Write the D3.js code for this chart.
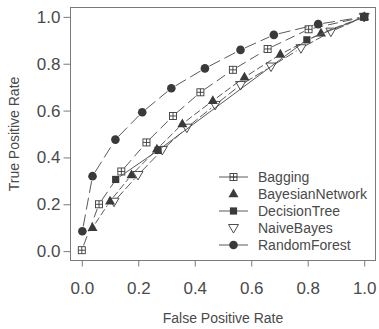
<!DOCTYPE html>
<html>
<head>
<meta charset="utf-8">
<script src="https://cdn.jsdelivr.net/npm/d3@7"></script>
<style>
  body { margin: 0; background: #fff; }
  svg { display: block; font-family: "Liberation Sans", Arial, sans-serif; }
</style>
</head>
<body>
<svg id="chart" width="379" height="329"></svg>
<script>
// ROC points
const seriesNames = ["Bagging", "BayesianNetwork", "DecisionTree", "NaiveBayes", "RandomForest"];

const baggingFpr = [0, 0.061, 0.14, 0.229, 0.323, 0.42, 0.535, 0.658, 0.803, 1];
const baggingTpr = [0.004, 0.2, 0.34, 0.464, 0.577, 0.678, 0.774, 0.863, 0.947, 1];

const bayesNetFpr = [0.038, 0.1, 0.176, 0.266, 0.356, 0.464, 0.576, 0.703, 0.847, 1];
const bayesNetTpr = [0.1, 0.213, 0.325, 0.435, 0.543, 0.642, 0.742, 0.84, 0.93, 1];

const treeFpr = [0.12, 0.27, 0.797, 1];
const treeTpr = [0.306, 0.43, 0.902, 1];

const naiveFpr = [0.114, 0.199, 0.285, 0.372, 0.472, 0.562, 0.67, 0.776, 0.882, 1];
const naiveTpr = [0.211, 0.325, 0.432, 0.527, 0.624, 0.709, 0.788, 0.866, 0.937, 1];

const forestFpr = [0.002, 0.038, 0.119, 0.214, 0.317, 0.436, 0.562, 0.68, 0.837, 1];
const forestTpr = [0.085, 0.32, 0.476, 0.593, 0.695, 0.78, 0.859, 0.923, 0.969, 1];

const tickValues = [0, 0.2, 0.4, 0.6, 0.8, 1.0];

const series = [
    { name: "Bagging", fpr: baggingFpr, tpr: baggingTpr, shape: "boxplus", dash: "10,5", legendLine: true },
    { name: "BayesianNetwork", fpr: bayesNetFpr, tpr: bayesNetTpr, shape: "triangle", dash: "7,3", legendLine: false },
    { name: "DecisionTree", fpr: treeFpr, tpr: treeTpr, shape: "square", dash: null, legendLine: true },
    { name: "NaiveBayes", fpr: naiveFpr, tpr: naiveTpr, shape: "downtri", dash: "9,3", legendLine: false },
    { name: "RandomForest", fpr: forestFpr, tpr: forestTpr, shape: "circle", dash: "12,5", legendLine: true }
];

const textColor = "#4a4a4a";
const lineColor = "#5a5a5a";
const markColor = "#3a3a3a";

const svg = d3.select("#chart");

const box = { left: 70.5, right: 375.5, top: 7.5, bottom: 260.5 };

const x = d3.scaleLinear().domain([-0.04, 1.04]).range([box.left, box.right]);
const y = d3.scaleLinear().domain([-0.04, 1.04]).range([box.bottom, box.top]);

// plot box
svg.append("rect")
    .attr("x", box.left)
    .attr("y", box.top)
    .attr("width", box.right - box.left)
    .attr("height", box.bottom - box.top)
    .attr("fill", "none")
    .attr("stroke", "#7a7a7a")
    .attr("stroke-width", 1);

// axes
const xAxis = svg.append("g")
    .attr("transform", `translate(0,${box.bottom})`)
    .call(d3.axisBottom(x).tickValues(tickValues).tickFormat(d3.format(".1f")).tickSize(6).tickPadding(15));
const yAxis = svg.append("g")
    .attr("transform", `translate(${box.left},0)`)
    .call(d3.axisLeft(y).tickValues(tickValues).tickFormat(d3.format(".1f")).tickSize(7).tickPadding(3));

[xAxis, yAxis].forEach(g => {
    g.select(".domain").remove();
    g.selectAll(".tick line").attr("stroke", "#7a7a7a");
    g.selectAll(".tick text")
        .attr("fill", textColor)
        .style("font-size", "17px")
        .style("font-family", "Liberation Sans, Arial, sans-serif");
});

// axis titles
svg.append("text")
    .attr("x", (box.left + box.right) / 2)
    .attr("y", 323)
    .attr("text-anchor", "middle")
    .attr("fill", textColor)
    .style("font-size", "14px")
    .text("False Positive Rate");

svg.append("text")
    .attr("transform", `translate(19,${(box.top + box.bottom) / 2}) rotate(-90)`)
    .attr("text-anchor", "middle")
    .attr("fill", textColor)
    .style("font-size", "14px")
    .text("True Positive Rate");

// marker drawing
function drawMarker(g, shape, cx, cy) {
    if (shape === "boxplus") {
        const s = 3.5;
        g.append("rect").attr("x", cx - s).attr("y", cy - s).attr("width", 2 * s).attr("height", 2 * s)
            .attr("fill", "none").attr("stroke", markColor).attr("stroke-width", 0.9);
        g.append("path").attr("d", `M${cx - s},${cy}H${cx + s}M${cx},${cy - s}V${cy + s}`)
            .attr("stroke", markColor).attr("stroke-width", 0.9);
    } else if (shape === "triangle") {
        g.append("path").attr("d", `M${cx},${cy - 5.5}L${cx + 5},${cy + 3.3}L${cx - 5},${cy + 3.3}Z`)
            .attr("fill", markColor);
    } else if (shape === "square") {
        g.append("rect").attr("x", cx - 3.6).attr("y", cy - 3.6).attr("width", 7.2).attr("height", 7.2)
            .attr("fill", markColor);
    } else if (shape === "downtri") {
        g.append("path").attr("d", `M${cx},${cy + 5}L${cx + 5},${cy - 3.5}L${cx - 5},${cy - 3.5}Z`)
            .attr("fill", "none").attr("stroke", markColor).attr("stroke-width", 0.9);
    } else if (shape === "circle") {
        g.append("circle").attr("cx", cx).attr("cy", cy).attr("r", 4.3).attr("fill", markColor);
    }
}

// series: lines with gaps at the points (type "b"), then markers
const gap = 5;
series.forEach(s => {
    const g = svg.append("g").attr("class", "series");
    const pts = s.fpr.map((f, i) => [x(f), y(s.tpr[i])]);
    for (let i = 0; i < pts.length - 1; i++) {
        const [x0, y0] = pts[i];
        const [x1, y1] = pts[i + 1];
        const len = Math.hypot(x1 - x0, y1 - y0);
        if (len <= 2 * gap) continue;
        const ux = (x1 - x0) / len, uy = (y1 - y0) / len;
        g.append("line")
            .attr("x1", x0 + ux * gap).attr("y1", y0 + uy * gap)
            .attr("x2", x1 - ux * gap).attr("y2", y1 - uy * gap)
            .attr("stroke", lineColor)
            .attr("stroke-width", 1)
            .attr("stroke-dasharray", s.dash);
    }
    pts.forEach(([px, py]) => drawMarker(g, s.shape, px, py));
});

// legend
const legend = svg.append("g").attr("class", "legend");
series.forEach((s, i) => {
    const ly = 177 + i * 17;
    const row = legend.append("g");
    if (s.legendLine) {
        row.append("line")
            .attr("x1", 219).attr("x2", 248)
            .attr("y1", ly).attr("y2", ly)
            .attr("stroke", lineColor).attr("stroke-width", 1);
    }
    drawMarker(row, s.shape, 233.5, ly);
    row.append("text")
        .attr("x", 258)
        .attr("y", ly)
        .attr("dy", "0.35em")
        .attr("fill", textColor)
        .style("font-size", "14px")
        .text(s.name);
});
</script>
</body>
</html>
